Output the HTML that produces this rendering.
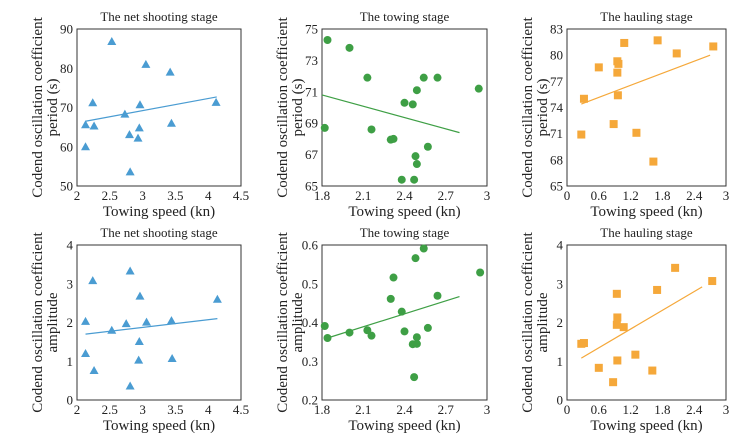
<!DOCTYPE html>
<html><head><meta charset="utf-8"><style>
body{margin:0;background:#fff;}
svg{display:block;font-family:"Liberation Serif",serif;}
</style></head><body>
<svg id="c" width="748" height="442" xmlns="http://www.w3.org/2000/svg"></svg>
<script>
const titles=["The net shooting stage","The towing stage","The hauling stage","The net shooting stage","The towing stage","The hauling stage"];
const yTitle2=["period (s)","period (s)","period (s)","amplitude","amplitude","amplitude"];
const xTicks=[[2,2.5,3,3.5,4,4.5],[1.8,2.1,2.4,2.7,3],[0,0.6,1.2,1.8,2.4,3],[2,2.5,3,3.5,4,4.5],[1.8,2.1,2.4,2.7,3],[0,0.6,1.2,1.8,2.4,3]];
const xTickLabels=[["2","2.5","3","3.5","4","4.5"],["1.8","2.1","2.4","2.7","3"],["0","0.6","1.2","1.8","2.4","3"],["2","2.5","3","3.5","4","4.5"],["1.8","2.1","2.4","2.7","3"],["0","0.6","1.2","1.8","2.4","3"]];
const yTicks=[[50,60,70,80,90],[65,67,69,71,73,75],[65,68,71,74,77,80,83],[0,1,2,3,4],[0.2,0.3,0.4,0.5,0.6],[0,1,2,3,4]];
const yTickLabels=[["50","60","70","80","90"],["65","67","69","71","73","75"],["65","68","71","74","77","80","83"],["0","1","2","3","4"],["0.2","0.3","0.4","0.5","0.6"],["0","1","2","3","4"]];
const p1x=[2.53,3.05,3.42,2.24,2.96,4.12,2.73,2.13,2.26,3.44,2.95,2.8,2.93,2.13,2.81];
const p1y=[86.8,81,79,71.2,70.7,71.3,68.3,65.6,65.3,66,64.8,63.1,62.2,60,53.6];
const p2x=[1.84,2.0,2.13,2.54,2.64,2.49,2.94,2.4,2.46,1.82,2.16,2.3,2.32,2.57,2.48,2.49,2.38,2.47];
const p2y=[74.3,73.8,71.9,71.9,71.9,71.1,71.2,70.3,70.2,68.7,68.6,67.95,68.0,67.5,66.9,66.4,65.4,65.4];
const p3x=[1.08,1.71,2.76,2.07,0.95,0.97,0.6,0.95,0.32,0.96,0.88,0.27,1.31,1.63];
const p3y=[81.4,81.7,81.0,80.2,79.3,79.0,78.6,78.0,75.0,75.4,72.1,70.9,71.1,67.8];
const p4x=[2.24,2.81,2.96,4.14,2.13,2.75,3.06,3.44,2.53,2.95,2.13,2.94,3.45,2.26,2.81];
const p4y=[3.08,3.33,2.68,2.6,2.03,1.97,2.01,2.05,1.8,1.51,1.2,1.03,1.07,0.76,0.36];
const p5x=[2.54,2.48,2.95,2.32,2.64,2.3,2.38,1.82,2.57,2.0,2.13,2.4,2.16,1.84,2.49,2.46,2.49,2.47];
const p5y=[0.591,0.566,0.529,0.516,0.469,0.461,0.428,0.391,0.386,0.374,0.38,0.377,0.366,0.36,0.362,0.344,0.345,0.259];
const p6x=[2.04,2.74,1.70,0.94,0.95,0.94,1.07,0.27,0.32,1.29,0.95,0.6,1.61,0.87];
const p6y=[3.41,3.07,2.84,2.74,2.13,1.94,1.88,1.45,1.47,1.17,1.02,0.83,0.76,0.46];
const trendX=[[2.13,4.13],[1.8,2.8],[0.27,2.7],[2.13,4.14],[1.84,2.8],[0.27,2.55]];
const trendY=[[66.5,72.7],[70.8,68.4],[74.4,80.0],[1.7,2.1],[0.36,0.467],[1.08,2.92]];
const XS=[p1x,p2x,p3x,p4x,p5x,p6x], YS=[p1y,p2y,p3y,p4y,p5y,p6y];
const colors=["#4a9cd2","#3e9f45","#f5a83a","#4a9cd2","#3e9f45","#f5a83a"];
const shapes=["tri","dot","sq","tri","dot","sq"];
const frames=[[77,241,29,186],[322,487,29,186],[567,726,29,186],[77,241,245,400],[322,487,245,400],[567,726,245,400]];
const NS="http://www.w3.org/2000/svg";
const svg=document.getElementById('c');
function mk(tag,attrs,parent){const e=document.createElementNS(NS,tag);for(const k in attrs)e.setAttribute(k,attrs[k]);(parent||svg).appendChild(e);return e;}
function txt(s,attrs,parent){const e=mk('text',attrs,parent);e.textContent=s;return e;}
for(let i=0;i<6;i++){
  const [L,R,T,B]=frames[i];
  const xt=xTicks[i], yt=yTicks[i];
  const x0=xt[0],x1=xt[xt.length-1],y0=yt[0],y1=yt[yt.length-1];
  const sx=v=>L+(v-x0)/(x1-x0)*(R-L);
  const sy=v=>B-(v-y0)/(y1-y0)*(B-T);
  const g=mk('g',{});
  
  
  const fr=mk('rect',{x:L,y:T,width:R-L,height:B-T,fill:'none',stroke:'#333','stroke-width':1},g);
  
  
  const t=txt(titles[i],{x:(L+R)/2,y:T-8,'text-anchor':'middle','font-size':13,fill:'#222'},g);
  
  
  xt.forEach((v,j)=>{const e=txt(xTickLabels[i][j],{x:sx(v),y:B+14,'text-anchor':'middle','font-size':13,fill:'#222'},g);
    
    });
  yt.forEach((v,j)=>{const e=txt(yTickLabels[i][j],{x:L-4,y:sy(v)+4.5,'text-anchor':'end','font-size':13,fill:'#222'},g);
    
    });
  const xl=txt("Towing speed (kn)",{x:(L+R)/2,y:B+30,'text-anchor':'middle','font-size':15,fill:'#222'},g);
  
  
  const cy=(T+B)/2, ax=L-35;
  const yl=txt("Codend oscillation coefficient",{x:ax,y:cy,'text-anchor':'middle','font-size':15,fill:'#222',transform:`rotate(-90 ${ax} ${cy})`},g);
  
  
  const ax2=L-20;
  const yl2=txt(yTitle2[i],{x:ax2,y:cy,'text-anchor':'middle','font-size':15,fill:'#222',transform:`rotate(-90 ${ax2} ${cy})`},g);
  
  
  const tl=mk('line',{x1:sx(trendX[i][0]),y1:sy(trendY[i][0]),x2:sx(trendX[i][1]),y2:sy(trendY[i][1]),stroke:colors[i],'stroke-width':1.2},g);
  
  
  XS[i].forEach((xv,j)=>{
    const px=sx(xv),py=sy(YS[i][j]);let m;
    if(shapes[i]==='tri') m=mk('polygon',{points:`${px},${py-4.5} ${px-4.5},${py+3.5} ${px+4.5},${py+3.5}`,fill:colors[i]},g);
    else if(shapes[i]==='dot') m=mk('circle',{cx:px,cy:py,r:4,fill:colors[i]},g);
    else m=mk('rect',{x:px-4,y:py-4,width:8,height:8,fill:colors[i]},g);
    
    
  });
}
</script>
</body></html>
